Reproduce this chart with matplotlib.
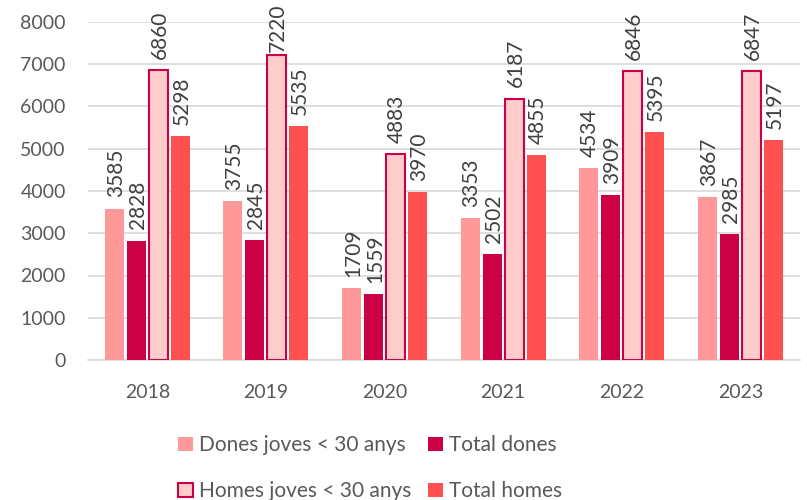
import matplotlib.pyplot as plt
import numpy as np

plt.rcParams['font.family'] = ['Lato', 'DejaVu Sans']

anys = ['2018', '2019', '2020', '2021', '2022', '2023']
dones_joves = [3585, 3755, 1709, 3353, 4534, 3867]
total_dones = [2828, 2845, 1559, 2502, 3909, 2985]
homes_joves = [6860, 7220, 4883, 6187, 6846, 6847]
total_homes = [5298, 5535, 3970, 4855, 5395, 5197]

series = [
    ('Dones joves < 30 anys', dones_joves, '#FF9999', '#FF9999'),
    ('Total dones', total_dones, '#CC0044', '#CC0044'),
    ('Homes joves < 30 anys', homes_joves, '#FFCCCC', '#CC0044'),
    ('Total homes', total_homes, '#FF5050', '#FF5050'),
]

fig = plt.figure(figsize=(8.07, 5), dpi=100)
ax = fig.add_axes([0.109, 0.28, 0.882, 0.676])

x = np.arange(len(anys))
w = 0.16
step = 0.185
handles = {}
for i, (nom, vals, fc, ec) in enumerate(series):
    off = (i - 1.5) * step
    lw = 1.5 if fc != ec else 0
    bars = ax.bar(x + off, vals, w, color=fc, edgecolor=ec, linewidth=lw, label=nom, zorder=3)
    handles[nom] = bars
    for xi, v in zip(x + off, vals):
        # labels near the top get less room so they stay inside the figure
        gap = 8 if v < 7000 else 2
        ax.annotate(str(v), (xi, v), xytext=(1, gap), textcoords='offset points',
                    rotation=90, ha='center', va='bottom',
                    fontsize=15, color='#404040', zorder=4)

ax.set_xlim(-0.5, len(anys) - 0.5)
ax.set_ylim(0, 8000)
ax.set_yticks(range(0, 8001, 1000))
ax.set_xticks(x)
ax.set_xticklabels(anys)
ax.tick_params(axis='both', length=0, labelsize=14, labelcolor='#595959')
ax.tick_params(axis='y', pad=16)
ax.tick_params(axis='x', pad=17)
ax.yaxis.grid(True, color='#D9D9D9', linewidth=1.2, zorder=0)
for s in ['top', 'right', 'left']:
    ax.spines[s].set_visible(False)
ax.spines['bottom'].set_color('#D9D9D9')
ax.spines['bottom'].set_linewidth(1.2)

ordre = ['Dones joves < 30 anys', 'Homes joves < 30 anys', 'Total dones', 'Total homes']
leg = fig.legend([handles[n] for n in ordre], ordre, ncol=2, loc='lower center',
                 bbox_to_anchor=(0.459, -0.04), frameon=False, fontsize=15,
                 handlelength=0.7, handleheight=0.7, handletextpad=0.3,
                 columnspacing=0.8, labelspacing=1.25, labelcolor='#595959')

fig.savefig('out.png', dpi=100)
